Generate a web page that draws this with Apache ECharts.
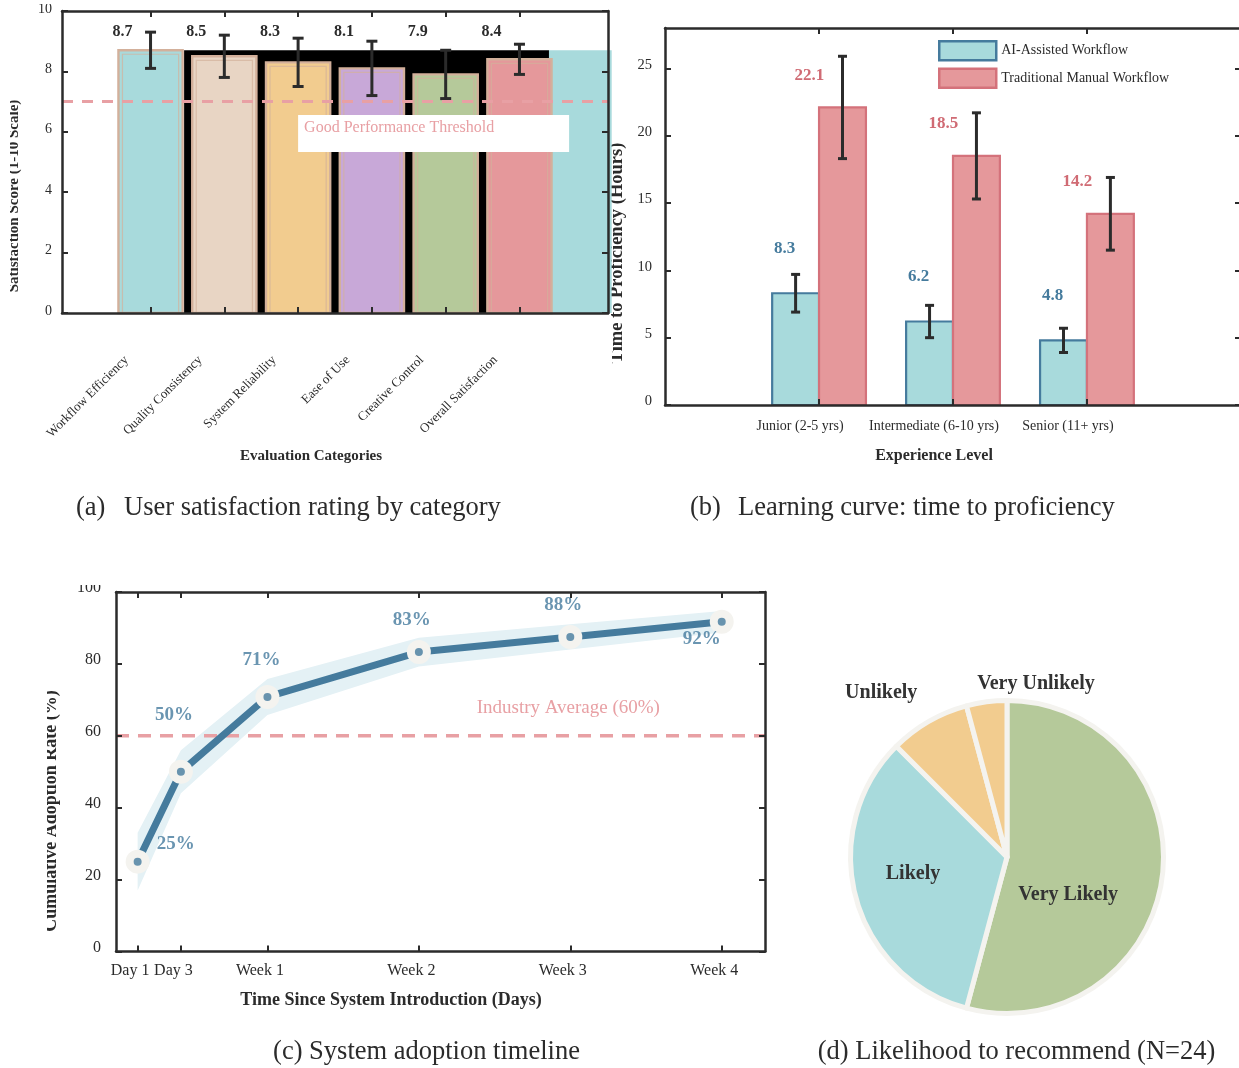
<!DOCTYPE html>
<html>
<head>
<meta charset="utf-8">
<title>AI-assisted workflow evaluation</title>
<script src="https://cdn.jsdelivr.net/npm/echarts@6.0.0/dist/echarts.min.js"></script>
<style>
  html, body { margin: 0; padding: 0; background: #ffffff; }
  #chart { width: 1239px; height: 1068px; }
</style>
</head>
<body>
<div id="chart"></div>
<script>
// ---------- (a) user satisfaction by category ----------
const categories = ['Workflow Efficiency', 'Quality Consistency', 'System Reliability', 'Ease of Use', 'Creative Control', 'Overall Satisfaction'];
const satisfactionScores = [8.7, 8.5, 8.3, 8.1, 7.9, 8.4];
const satisfactionErrors = [0.6, 0.7, 0.8, 0.9, 0.8, 0.5];
const satisfactionTicks = [0, 2, 4, 6, 8, 10];
const goodThreshold = 7;
// filled blocks behind / beside the bars, as [from, to] on the category scale
const backdropBlocks = [[0.455, 5.4], [5.4, 6.25]];

// ---------- (b) time to proficiency ----------
const experienceLevels = ['Junior (2-5 yrs)', 'Intermediate (6-10 yrs)', 'Senior (11+ yrs)'];
const aiHours = [8.3, 6.2, 4.8];
const aiHoursErr = [1.4, 1.2, 0.9];
const manualHours = [22.1, 18.5, 14.2];
const manualHoursErr = [3.8, 3.2, 2.7];
const hourTicks = [0, 5, 10, 15, 20, 25];

// ---------- (c) adoption timeline ----------
const adoptionDays = [1, 3, 7, 14, 21, 28];
const adoptionDayLabels = ['Day 1', 'Day 3', 'Week 1', 'Week 2', 'Week 3', 'Week 4'];
const adoptionRate = [25, 50, 70.8, 83.3, 87.5, 91.7];
const adoptionSpread = [8, 6, 5, 4, 3.5, 3];
const adoptionTicks = [0, 20, 40, 60, 80, 100];
const industryAverage = 60;

// ---------- (d) likelihood to recommend ----------
const recommendLabels = ['Very Likely', 'Likely', 'Unlikely', 'Very Unlikely'];
const recommendCounts = [13, 8, 2, 1];

// ---------- styling ----------
const FONT = '"Liberation Serif", "Times New Roman", Times, serif';
const INK = '#2b2b2b';
const BLUE = '#457b9d';
const PINK = '#e8a0a4';
const barFills = ['#a8dadc', '#e8d5c4', '#f2cc8f', '#c8a8d8', '#b5c99a', '#e5989b'];
const backdropFills = ['#000000', barFills[0]];
const pieFills = ['#b5c99a', '#a8dadc', '#f2cc8f', '#f2cc8f'];
const MANUAL_FILL = '#e5989b', MANUAL_EDGE = '#d4727b', MANUAL_TEXT = '#d06b74';
const AI_FILL = '#a8dadc';
const font = (size, bold) => (bold ? 'bold ' : '') + size + 'px ' + FONT;

// layout helpers (pixel offsets / value offsets for annotations)
const BAR_A = 0.87;          // bar width in category units, panel a
const LABEL_ROW_A = 9.3;     // height of the value labels, panel a
const LABEL_DX_A = -28;
const BAR_B = 0.35;          // bar width, panel b
const LABEL_LIFT_AI = 3.3, LABEL_LIFT_MANUAL = 2.4;
const LABEL_DX_AI = -11, LABEL_DX_MANUAL = -33;
const adoptionLabelNudge = [[38, -18], [-7, -57], [-6, -37], [-7, -32], [-7, -32], [-20, 17]];
const PIE_CX = 1007, PIE_CY = 857, PIE_R = 156.5;
const pieLabelPolar = [[122, 0.46], [260, 0.61], [322.5, 1.32], [9.5, 1.12]];

function txt(text, x, y, f, extra) {
  const st = Object.assign({
    text: text, font: f, fill: INK,
    align: 'center', verticalAlign: 'middle',
    textAlign: 'center', textVerticalAlign: 'middle'
  }, (extra && extra.style) || {});
  const el = { type: 'text', x: x, y: y, z: 20, silent: true, style: st };
  if (extra) {
    if (extra.rotation !== undefined) el.rotation = extra.rotation;
    if (extra.z !== undefined) el.z = extra.z;
  }
  return el;
}
function mask(x, y, w, h) {
  return { type: 'rect', z: 30, silent: true, shape: { x: x, y: y, width: w, height: h }, style: { fill: '#ffffff' } };
}

// four framing axes (bottom/top x, left/right y) for one grid
function frameAxes(gridIndex, s) {
  const line = { show: true, onZero: false, lineStyle: { color: INK, width: 2.5 } };
  const tick = vals => ({ show: true, inside: true, length: 6, customValues: vals, lineStyle: { color: INK, width: 2 } });
  const xBase = { type: 'value', gridIndex: gridIndex, min: s.xMin, max: s.xMax, z: 6, axisLine: line, axisTick: tick(s.xTicks), splitLine: { show: false } };
  const yBase = { type: 'value', gridIndex: gridIndex, min: s.yMin, max: s.yMax, z: 6, axisLine: line, axisTick: tick(s.yTicks), splitLine: { show: false } };
  return {
    x: [
      Object.assign({}, xBase, { position: 'bottom', axisLabel: Object.assign({ show: true, customValues: s.xTicks, color: INK, fontFamily: FONT }, s.xLabel) }),
      Object.assign({}, xBase, { position: 'top', axisLabel: { show: false } })
    ],
    y: [
      Object.assign({}, yBase, { position: 'left', axisLabel: Object.assign({ show: true, customValues: s.yTicks, color: INK, fontFamily: FONT, verticalAlign: 'bottom' }, s.yLabel) }),
      Object.assign({}, yBase, { position: 'right', axisLabel: { show: false } })
    ]
  };
}

const axA = frameAxes(0, {
  xMin: -1.2, xMax: 6.2, xTicks: categories.map((c, i) => i),
  xLabel: { fontSize: 13, rotate: 45, margin: 21, padding: [0, 34, 0, 0], formatter: v => categories[Math.round(v)] },
  yMin: 0, yMax: 10, yTicks: satisfactionTicks,
  yLabel: { fontSize: 14, margin: 10, lineHeight: 4 }
});
const axB = frameAxes(1, {
  xMin: -1.15, xMax: 3.15, xTicks: experienceLevels.map((c, i) => i),
  xLabel: { fontSize: 14, margin: 14, padding: [0, 38, 0, 0], formatter: v => experienceLevels[Math.round(v)] },
  yMin: 0, yMax: 28, yTicks: hourTicks,
  yLabel: { fontSize: 14.5, margin: 13, lineHeight: 7 }
});
const axC = frameAxes(2, {
  xMin: 0, xMax: 30, xTicks: adoptionDays,
  xLabel: { fontSize: 16, margin: 11, padding: [0, 15, 0, 0], formatter: v => adoptionDayLabels[adoptionDays.indexOf(v)] },
  yMin: 0, yMax: 100, yTicks: adoptionTicks,
  yLabel: { fontSize: 16, margin: 15, lineHeight: 8 }
});

function errorBar(top, bot, cap) {
  const st = { stroke: INK, lineWidth: 3 };
  return [
    { type: 'line', shape: { x1: top[0], y1: top[1], x2: bot[0], y2: bot[1] }, style: st },
    { type: 'line', shape: { x1: top[0] - cap, y1: top[1], x2: top[0] + cap, y2: top[1] }, style: st },
    { type: 'line', shape: { x1: bot[0] - cap, y1: bot[1], x2: bot[0] + cap, y2: bot[1] }, style: st }
  ];
}

// grouped bars with error bars and value labels for panel b
function hoursSeries(name, values, errs, shift, fill, edge, textColor, lift, dx) {
  return {
    type: 'custom', name: name, xAxisIndex: 2, yAxisIndex: 2, z: 2, silent: true,
    data: values.map((v, i) => [i + shift, v, errs[i]]),
    renderItem: (params, api) => {
      const x = api.value(0), v = api.value(1), e = api.value(2);
      const tl = api.coord([x - BAR_B / 2, v]);
      const br = api.coord([x + BAR_B / 2, 0]);
      const top = api.coord([x, v + e]), bot = api.coord([x, v - e]);
      const lab = api.coord([x, v + lift]);
      return {
        type: 'group', children: [
          { type: 'rect', shape: { x: tl[0], y: tl[1], width: br[0] - tl[0], height: br[1] - tl[1] }, style: { fill: fill, stroke: edge, lineWidth: 2.2 } }
        ].concat(errorBar(top, bot, 4.5)).concat([
          { type: 'text', x: lab[0] + dx, y: lab[1], style: { text: v.toFixed(1), font: font(17, true), fill: textColor, align: 'center', verticalAlign: 'middle', textAlign: 'center', textVerticalAlign: 'middle' } }
        ])
      };
    }
  };
}

const option = {
  animation: false,
  backgroundColor: '#ffffff',
  grid: [
    { left: 62, top: 11, width: 546, height: 302, outerBoundsMode: 'none', containLabel: false },
    { left: 665, top: 28, width: 576, height: 377, outerBoundsMode: 'none', containLabel: false },
    { left: 116, top: 592, width: 649, height: 359.5, outerBoundsMode: 'none', containLabel: false }
  ],
  xAxis: axA.x.concat(axB.x).concat(axC.x),
  yAxis: axA.y.concat(axB.y).concat(axC.y),
  legend: {
    left: 933, top: 35, orient: 'vertical', icon: 'rect', itemWidth: 57, itemHeight: 19, itemGap: 6,
    selectedMode: false,
    textStyle: { fontFamily: FONT, fontSize: 14, color: INK },
    data: [
      { name: 'AI-Assisted Workflow', itemStyle: { color: AI_FILL, borderColor: BLUE, borderWidth: 2.5 } },
      { name: 'Traditional Manual Workflow', itemStyle: { color: MANUAL_FILL, borderColor: MANUAL_EDGE, borderWidth: 2.5 } }
    ]
  },
  series: [
    // (a) dark backdrop and the block beside the last bar
    {
      type: 'custom', xAxisIndex: 0, yAxisIndex: 0, z: 1, silent: true, clip: false,
      data: backdropBlocks.map(b => [b[0], b[1], satisfactionScores[0]]),
      renderItem: (params, api) => {
        const a = api.coord([api.value(0), api.value(2)]);
        const b = api.coord([api.value(1), 0]);
        return { type: 'rect', shape: { x: a[0], y: a[1], width: b[0] - a[0], height: b[1] - a[1] }, style: { fill: backdropFills[params.dataIndex] } };
      }
    },
    // (a) bars with error bars
    {
      type: 'custom', xAxisIndex: 0, yAxisIndex: 0, z: 2, silent: true,
      data: satisfactionScores.map((v, i) => [i, v, satisfactionErrors[i]]),
      renderItem: (params, api) => {
        const i = params.dataIndex, x = api.value(0), v = api.value(1), e = api.value(2);
        const tl = api.coord([x - BAR_A / 2, v]);
        const br = api.coord([x + BAR_A / 2, 0]);
        const w = br[0] - tl[0], h = br[1] - tl[1];
        return {
          type: 'group', children: [
            { type: 'rect', shape: { x: tl[0], y: tl[1], width: w, height: h }, style: { fill: barFills[i], stroke: '#d3b09b', lineWidth: 2.4 } },
            { type: 'rect', shape: { x: tl[0] + 4, y: tl[1] + 4, width: w - 8, height: h - 4 }, style: { fill: 'none', stroke: 'rgba(211,176,155,0.7)', lineWidth: 1.2 } }
          ].concat(errorBar(api.coord([x, v + e]), api.coord([x, v - e]), 5.5))
        };
      }
    },
    // (a) good-performance threshold and its note
    {
      type: 'custom', xAxisIndex: 0, yAxisIndex: 0, z: 4, silent: true,
      data: [[2.0, goodThreshold]],
      renderItem: (params, api) => {
        const cs = params.coordSys;
        const yLine = api.coord([0, api.value(1)])[1];
        const box = api.coord([api.value(0), api.value(1) - 0.44]);
        return {
          type: 'group', children: [
            { type: 'line', shape: { x1: cs.x, y1: yLine, x2: cs.x + cs.width, y2: yLine }, style: { stroke: PINK, lineWidth: 3, lineDash: [11, 9] } },
            { type: 'rect', shape: { x: box[0], y: box[1], width: 271, height: 37 }, style: { fill: '#ffffff' } },
            { type: 'text', x: box[0] + 6, y: box[1] + 13, style: { text: 'Good Performance Threshold', font: font(16, false), fill: PINK, align: 'left', verticalAlign: 'middle', textAlign: 'left', textVerticalAlign: 'middle' } }
          ]
        };
      }
    },
    // (a) value labels
    {
      type: 'custom', xAxisIndex: 0, yAxisIndex: 0, z: 5, silent: true,
      data: satisfactionScores.map((v, i) => [i, v]),
      renderItem: (params, api) => {
        const p = api.coord([api.value(0), LABEL_ROW_A]);
        return { type: 'text', x: p[0] + LABEL_DX_A, y: p[1], style: { text: api.value(1).toFixed(1), font: font(16, true), fill: INK, align: 'center', verticalAlign: 'middle', textAlign: 'center', textVerticalAlign: 'middle' } };
      }
    },
    // (b) grouped bars
    hoursSeries('AI-Assisted Workflow', aiHours, aiHoursErr, -BAR_B / 2, AI_FILL, BLUE, BLUE, LABEL_LIFT_AI, LABEL_DX_AI),
    hoursSeries('Traditional Manual Workflow', manualHours, manualHoursErr, BAR_B / 2, MANUAL_FILL, MANUAL_EDGE, MANUAL_TEXT, LABEL_LIFT_MANUAL, LABEL_DX_MANUAL),
    // (c) uncertainty band
    {
      type: 'custom', xAxisIndex: 4, yAxisIndex: 4, z: 1, silent: true, clip: true,
      data: [[adoptionDays[0], adoptionRate[0]]],
      renderItem: (params, api) => {
        const upper = adoptionDays.map((d, i) => api.coord([d, adoptionRate[i] + adoptionSpread[i]]));
        const lower = adoptionDays.map((d, i) => api.coord([d, adoptionRate[i] - adoptionSpread[i]])).reverse();
        return { type: 'polygon', shape: { points: upper.concat(lower) }, style: { fill: '#e4f1f5' } };
      }
    },
    // (c) industry average
    {
      type: 'custom', xAxisIndex: 4, yAxisIndex: 4, z: 2, silent: true,
      data: [[adoptionDays[4], industryAverage]],
      renderItem: (params, api) => {
        const cs = params.coordSys;
        const yLine = api.coord([0, api.value(1)])[1];
        const t = api.coord([api.value(0), api.value(1) + 7.6]);
        return {
          type: 'group', children: [
            { type: 'line', shape: { x1: cs.x, y1: yLine, x2: cs.x + cs.width, y2: yLine }, style: { stroke: PINK, lineWidth: 3.5, lineDash: [13, 9] } },
            { type: 'text', x: t[0] - 2, y: t[1], style: { text: 'Industry Average (' + industryAverage + '%)', font: font(19, false), fill: PINK, align: 'center', verticalAlign: 'middle', textAlign: 'center', textVerticalAlign: 'middle' } }
          ]
        };
      }
    },
    // (c) adoption curve
    {
      type: 'line', xAxisIndex: 4, yAxisIndex: 4, z: 3, silent: true,
      data: adoptionDays.map((d, i) => [d, adoptionRate[i]]),
      symbol: 'circle', symbolSize: 24, showSymbol: true,
      itemStyle: { color: '#f4f3ef', borderWidth: 0 },
      lineStyle: { color: BLUE, width: 7 },
      emphasis: { disabled: true }
    },
    {
      type: 'scatter', xAxisIndex: 4, yAxisIndex: 4, z: 4, silent: true,
      symbolSize: 8, itemStyle: { color: BLUE },
      data: adoptionDays.map((d, i) => ({ value: [d, adoptionRate[i]], label: { offset: adoptionLabelNudge[i] } })),
      label: {
        show: true, position: 'inside', color: BLUE, fontFamily: FONT, fontSize: 19, fontWeight: 'bold',
        formatter: p => Math.round(p.value[1]) + '%'
      },
      emphasis: { disabled: true }
    },
    // (d) recommendation pie
    {
      type: 'pie', center: [PIE_CX, PIE_CY], radius: PIE_R, startAngle: 90, clockwise: true,
      avoidLabelOverlap: false, silent: true,
      data: recommendLabels.map((n, i) => ({ name: n, value: recommendCounts[i], itemStyle: { color: pieFills[i] } })),
      itemStyle: { borderColor: '#f4f3ef', borderWidth: 5 },
      label: { show: true, position: 'inside', color: '#333333', fontFamily: FONT, fontSize: 20, fontWeight: 'bold', formatter: '{b}' },
      labelLine: { show: false },
      labelLayout: params => {
        const pl = pieLabelPolar[params.dataIndex];
        const a = pl[0] * Math.PI / 180, r = pl[1] * PIE_R;
        return { x: PIE_CX + r * Math.sin(a), y: PIE_CY - r * Math.cos(a), align: 'center', verticalAlign: 'middle' };
      },
      emphasis: { disabled: true }
    }
  ],
  graphic: { elements: [
    // axis titles
    txt('Evaluation Categories', 311, 456, font(15, true)),
    txt('Satisfaction Score (1-10 Scale)', 14, 196, font(15, true), { rotation: Math.PI / 2 }),
    txt('Experience Level', 934, 456, font(16, true)),
    txt('Time to Proficiency (Hours)', 617.5, 253, font(18.5, true), { rotation: Math.PI / 2, z: 1 }),
    txt('Time Since System Introduction (Days)', 391, 1000, font(18, true)),
    txt('Cumulative Adoption Rate (%)', 51, 811, font(18, true), { rotation: Math.PI / 2 }),
    // panel captions
    txt('(a)', 76, 508, font(26.5, false), { style: { align: 'left', textAlign: 'left' } }),
    txt('User satisfaction rating by category', 124, 508, font(26.5, false), { style: { align: 'left', textAlign: 'left' } }),
    txt('(b)', 690, 508, font(26.5, false), { style: { align: 'left', textAlign: 'left' } }),
    txt('Learning curve: time to proficiency', 738, 508, font(26.5, false), { style: { align: 'left', textAlign: 'left' } }),
    txt('(c) System adoption timeline', 426.5, 1052, font(26.5, false)),
    txt('(d) Likelihood to recommend (N=24)', 1016.5, 1052, font(26.5, false)),
    // panel edges that crop neighbouring text
    mask(0, 80, 10, 230),
    mask(30, 0, 28, 4),
    mask(596, 316, 16, 64),
    mask(28, 680, 19, 265),
    mask(60, 560, 53, 25)
  ] }
};

const chart = echarts.init(document.getElementById('chart'), null, { renderer: 'canvas' });
chart.setOption(option);
</script>
</body>
</html>
